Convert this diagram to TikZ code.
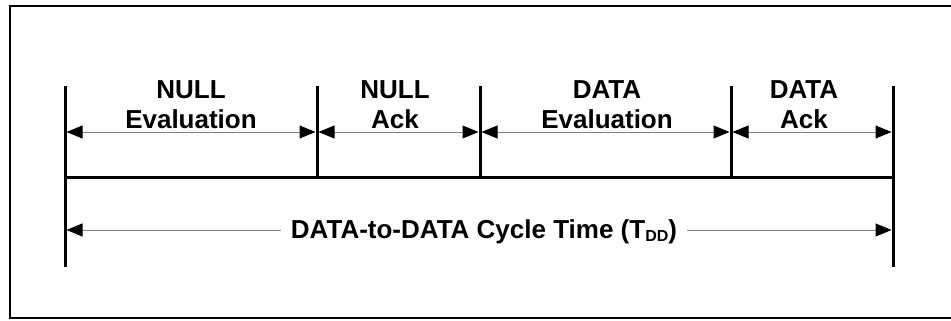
\documentclass[tikz,border=0pt]{standalone}
\usepackage{fontspec}
\setmainfont{Liberation Sans}
\usetikzlibrary{arrows.meta}
\newcommand{\phasefont}{\bfseries\fontsize{26}{30}\selectfont}
\begin{document}
\begin{tikzpicture}[x=1pt,y=-1pt,
  >={Triangle[length=16pt,width=13pt,color=black]},
  frame/.style={line width=2pt,black},
  tick/.style={line width=3pt,black},
  span/.style={line width=1pt,gray},
  lbl/.style={font=\phasefont,align=center,inner sep=0pt,anchor=north}]
  \useasboundingbox (0,0) rectangle (951,321);
  % open frame
  \draw[frame] (955,6) -- (10,6) -- (10,318) -- (955,318);

  % phase boundaries
  \coordinate (m0t) at (65,86);   \coordinate (m0b) at (65,267);
  \coordinate (m1t) at (317,86);  \coordinate (m1)  at (317,177);
  \coordinate (m2t) at (480,86);  \coordinate (m2)  at (480,177);
  \coordinate (m3t) at (731,86);  \coordinate (m3)  at (731,177);
  \coordinate (m4t) at (893,86);  \coordinate (m4b) at (893,267);
  \coordinate (m0)  at (65,177);  \coordinate (m4)  at (893,177);

  \draw[tick] (m0t) -- (m0b);
  \draw[tick] (m4t) -- (m4b);
  \draw[tick] (m1t) -- (m1);
  \draw[tick] (m2t) -- (m2);
  \draw[tick] (m3t) -- (m3);
  \draw[tick] (m0) -- (m4);

  % dimension line ends
  \coordinate (a0) at (65,132);
  \coordinate (a1) at (317,132);
  \coordinate (a2) at (480,132);
  \coordinate (a3) at (731,132);
  \coordinate (a4) at (893,132);
  \coordinate (c0) at (65,230);
  \coordinate (c4) at (893,230);

  \draw[span,<->,shorten <=1.5pt,shorten >=1.5pt] (a0) -- (a1);
  \draw[span,<->,shorten <=1.5pt,shorten >=1.5pt] (a1) -- (a2);
  \draw[span,<->,shorten <=1.5pt,shorten >=1.5pt] (a2) -- (a3);
  \draw[span,<->,shorten <=1.5pt,shorten >=1.5pt] (a3) -- (a4);

  % phase labels
  \node[lbl] (nulleval) at (191,80)   {NULL\\Evaluation};
  \node[lbl] (nullack)  at (395,80)   {NULL\\Ack};
  \node[lbl] (dataeval) at (607,80)   {DATA\\Evaluation};
  \node[lbl] (dataack)  at (804,80)   {DATA\\Ack};

  % total cycle time
  \node[font=\phasefont,fill=white,inner xsep=10pt,inner ysep=0pt,anchor=base]
    (cycle) at (484,238)
    {DATA-to-DATA Cycle Time (T\raisebox{-3.5pt}{\fontsize{16}{16}\selectfont DD})};
  \draw[span,->,shorten >=1.5pt] (cycle.west |- c0) -- (c0);
  \draw[span,->,shorten >=1.5pt] (cycle.east |- c4) -- (c4);
\end{tikzpicture}
\end{document}
